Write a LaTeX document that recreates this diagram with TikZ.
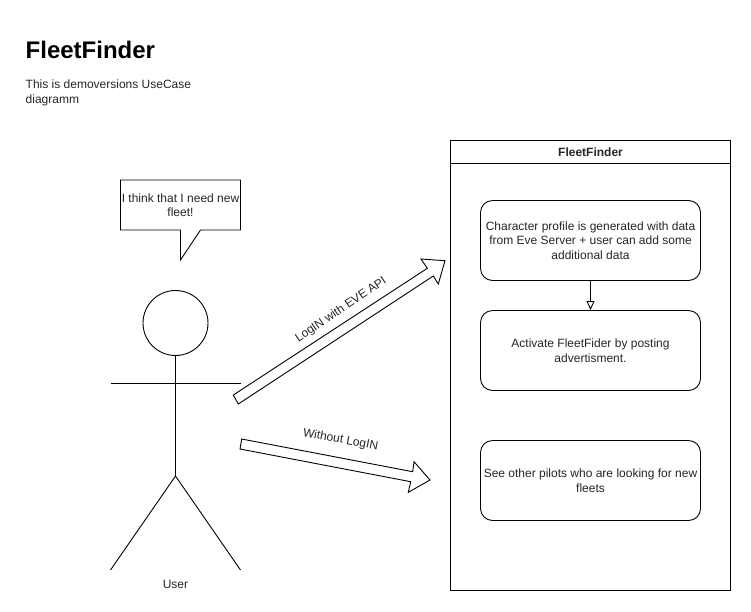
\documentclass[tikz,border=0pt]{standalone}
\usepackage{fontspec}
\setmainfont{Liberation Sans}
\usetikzlibrary{arrows.meta,shapes.misc}
\tikzset{
  ink/.style={draw=black,line width=0.9pt,line join=miter},
  usecase/.style={ink,rounded corners=12pt,minimum width=220pt,minimum height=80pt,align=center,font=\fontsize{12}{14.5}\selectfont,text=black!85,inner sep=0pt},
  lab/.style={font=\fontsize{12}{14.5}\selectfont,text=black!85,inner sep=0pt,align=center},
  flow/.style={ink,-{Triangle[open,length=9pt,width=8pt]}}
}
\begin{document}
\begin{tikzpicture}[x=1pt,y=-1pt]
\useasboundingbox (0,0) rectangle (751,611);
\fill[white] (0,0) rectangle (751,611);
% titles
\node[anchor=base west,inner sep=0pt,font=\fontsize{24}{28}\selectfont\bfseries] (title) at (25.5,58) {FleetFinder};
\node[anchor=north west,lab,align=left] (subtitle) at (25.5,80) {This is demoversions UseCase\\diagramm};
% callout
\draw[ink,fill=white] (120.5,180) -- (240.5,180) -- (240.5,230) -- (200.5,230) -- (180.5,260) -- (180.5,230) -- (120.5,230) -- cycle;
\node[lab] (speech) at (180.5,205) {I think that I need new\\fleet!};
% actor
\node[ink,circle,minimum size=65pt,inner sep=0pt] (head) at (175.5,323) {};
\coordinate (hip) at (175.5,476);
\coordinate (armL) at (110.5,383);
\coordinate (armR) at (240.5,383);
\coordinate (footL) at (110.5,570);
\coordinate (footR) at (240.5,570);
\draw[ink] (head.south) -- (hip);
\draw[ink] (armL) -- (armR);
\draw[ink] (footL) -- (hip) -- (footR);
\node[lab] (user) at (175.5,584) {User};
% container
\node[ink,anchor=north west,outer sep=0pt,minimum width=280pt,minimum height=450pt,inner sep=0pt] (frame) at (450.5,140.5) {};
\draw[ink] (450.5,163.5) -- (730.5,163.5);
\node[lab,font=\fontsize{12}{14.5}\selectfont\bfseries] (frametitle) at (590.5,152) {FleetFinder};
% use cases
\node[usecase] (uc1) at (590.5,240.5) {Character profile is generated with data\\from Eve Server + user can add some\\additional data};
\node[usecase] (uc2) at (590.5,350.5) {Activate FleetFider by posting\\advertisment.};
\node[usecase] (uc3) at (590.5,480.5) {See other pilots who are looking for new\\fleets};
\draw[flow] (uc1) -- (uc2);
% block arrows
\draw[ink,fill=white] (233.3,395) -- (427.3,268.3) -- (421,259) -- (445,260.7) -- (438.3,284) -- (433.3,276) -- (238.3,404) -- cycle;
\node[lab,rotate=34] (login) at (341,310) {LogIN with EVE API};
\draw[ink,fill=white] (241.7,439) -- (412.7,471.7) -- (414,461.7) -- (430,480) -- (408.3,492.3) -- (410.7,481.7) -- (240,449) -- cycle;
\node[lab,rotate=-10.5] (nologin) at (340.5,440) {Without LogIN};
\end{tikzpicture}
\end{document}
